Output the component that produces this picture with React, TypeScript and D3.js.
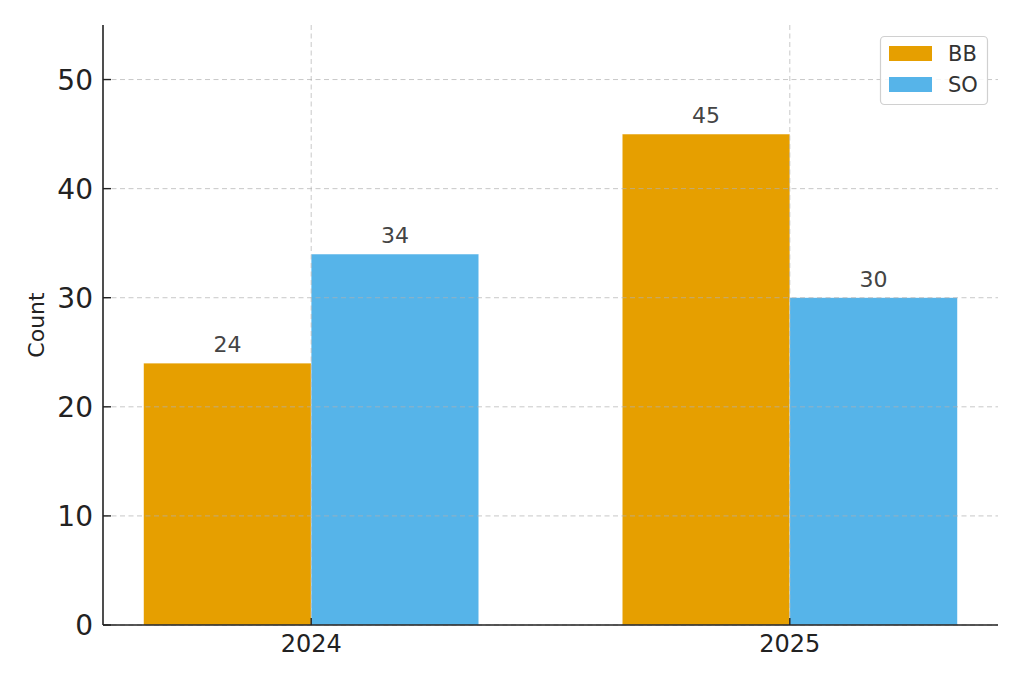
import React from "react";
import * as d3 from "d3";

const years = ["2024", "2025"];
const seriesNames = ["BB", "SO"];
const bbValues = [24, 45];
const soValues = [34, 30];
const yTicks = [0, 10, 20, 30, 40, 50];
const colors = ["#E69F00", "#56B4E9"];

const W = 1024;
const H = 683;
const M = { left: 103, right: 998, top: 25, bottom: 625 };
const FONT = "'DejaVu Sans', sans-serif";

export default function App() {
  const barW = 0.35;
  const x = d3.scaleLinear().domain([-0.435, 1.435]).range([M.left, M.right]);
  const y = d3.scaleLinear().domain([0, 55]).range([M.bottom, M.top]);
  const series = [bbValues, soValues];

  const bars = series.flatMap((vals, si) =>
    vals.map((v, i) => {
      const x0 = si === 0 ? i - barW : i;
      return { si, i, v, x0, x1: x0 + barW };
    })
  );

  const grid = { stroke: "#b0b0b0", strokeOpacity: 0.7, strokeDasharray: "5,3.5", strokeWidth: 1 };

  return (
    <svg width={W} height={H} style={{ position: "absolute", left: 0, top: 0, background: "#fff" }}>
      <rect x={0} y={0} width={W} height={H} fill="#fff" />
      {bars.map((b) => (
        <rect
          key={`${b.si}-${b.i}`}
          x={x(b.x0)}
          y={y(b.v)}
          width={x(b.x1) - x(b.x0)}
          height={y(0) - y(b.v)}
          fill={colors[b.si]}
          stroke="#fff"
          strokeOpacity={0.5}
          strokeWidth={0.6}
        />
      ))}
      {/* grid lines, drawn over the bars */}
      {yTicks.map((t) => (
        <line key={`gy${t}`} x1={M.left} x2={M.right} y1={y(t)} y2={y(t)} {...grid} />
      ))}
      {years.map((_, i) => (
        <line key={`gx${i}`} x1={x(i)} x2={x(i)} y1={M.top} y2={M.bottom} {...grid} />
      ))}
      {/* value labels */}
      {bars.map((b) => (
        <text
          key={`l${b.si}-${b.i}`}
          x={(x(b.x0) + x(b.x1)) / 2}
          y={y(b.v) - 11}
          textAnchor="middle"
          fontFamily={FONT}
          fontSize={22}
          fill="#444"
        >
          {b.v}
        </text>
      ))}
      {/* axes */}
      <line x1={M.left} x2={M.left} y1={M.top} y2={M.bottom} stroke="#222" strokeWidth={1.6} />
      <line x1={M.left} x2={M.right} y1={M.bottom} y2={M.bottom} stroke="#222" strokeWidth={1.6} />
      {yTicks.map((t) => (
        <g key={`ty${t}`}>
          <line x1={M.left} x2={M.left + 8} y1={y(t)} y2={y(t)} stroke="#222" strokeWidth={1.4} />
          <text
            x={M.left - 10}
            y={y(t) + 10}
            textAnchor="end"
            fontFamily={FONT}
            fontSize={28}
            fill="#222"
          >
            {t}
          </text>
        </g>
      ))}
      {years.map((yr, i) => (
        <g key={`tx${yr}`}>
          <line x1={x(i)} x2={x(i)} y1={M.bottom} y2={M.bottom - 7} stroke="#222" strokeWidth={1.4} />
          <text
            x={x(i)}
            y={652}
            textAnchor="middle"
            fontFamily={FONT}
            fontSize={24}
            fill="#222"
          >
            {yr}
          </text>
        </g>
      ))}
      <text
        transform={`translate(44, ${(M.top + M.bottom) / 2}) rotate(-90)`}
        textAnchor="middle"
        fontFamily={FONT}
        fontSize={22}
        fill="#222"
      >
        Count
      </text>
      {/* legend */}
      <g>
        <rect x={880.5} y={36.5} width={107} height={68} rx={4} fill="#fff" fillOpacity={0.85} stroke="#d0d0d0" strokeWidth={1.2} />
        {seriesNames.map((n, i) => (
          <g key={n}>
            <rect x={889} y={46 + i * 31} width={43} height={15} fill={colors[i]} />
            <text x={948} y={61 + i * 31} fontFamily={FONT} fontSize={21} fill="#333">
              {n}
            </text>
          </g>
        ))}
      </g>
    </svg>
  );
}
